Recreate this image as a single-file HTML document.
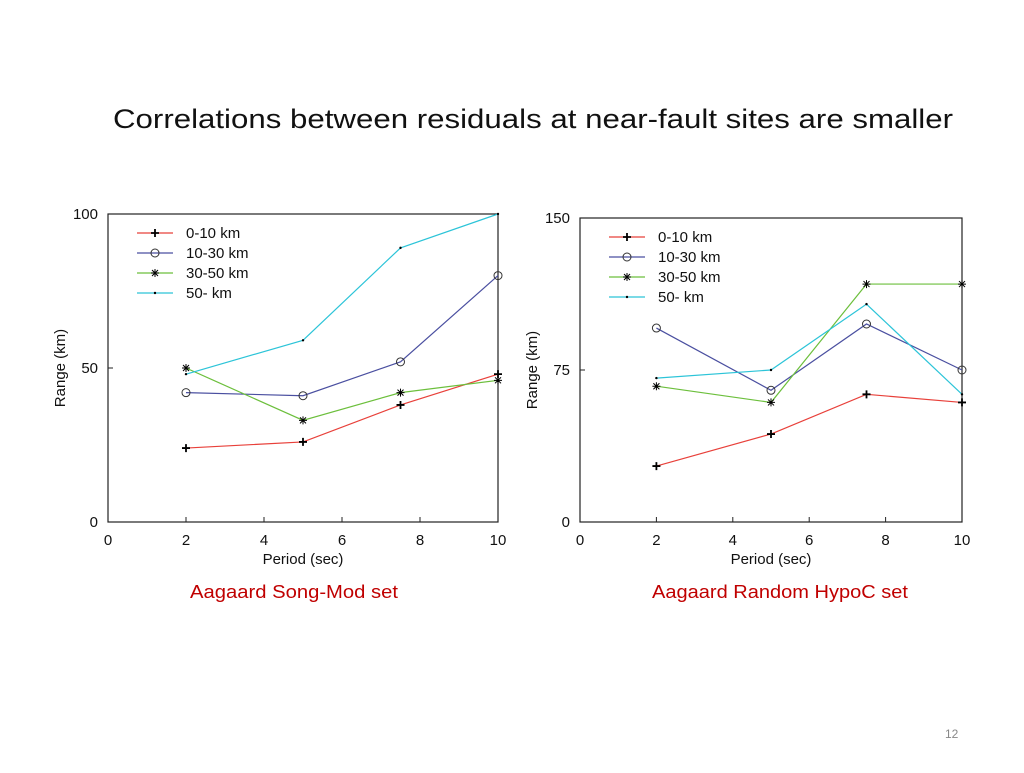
<!DOCTYPE html>
<html><head><meta charset="utf-8"><style>
body{margin:0;background:#fff;width:1024px;height:768px;overflow:hidden;font-family:"Liberation Sans",sans-serif}
svg text{font-family:"Liberation Sans",sans-serif}
</style></head><body>
<svg id="s" width="1024" height="768">
<text x="113" y="128" font-size="27" fill="#111" textLength="840" lengthAdjust="spacingAndGlyphs">Correlations between residuals at near-fault sites are smaller</text>
<text x="190" y="598" font-size="18" fill="#c00000" textLength="208" lengthAdjust="spacingAndGlyphs">Aagaard Song-Mod set</text>
<text x="652" y="598" font-size="18" fill="#c00000" textLength="256" lengthAdjust="spacingAndGlyphs">Aagaard Random HypoC set</text>
<text x="945" y="738" font-size="12" fill="#888">12</text>
</svg>
<script>
const periods=[2,5,7.5,10];
const seriesNames=["0-10 km","10-30 km","30-50 km","50- km"];
const leftA=[24,26,38,48];
const leftB=[42,41,52,80];
const leftC=[50,33,42,46];
const leftD=[48,59,89,100];
const rightA=[27.6,43.4,63,59];
const rightB=[95.7,65,97.7,75];
const rightC=[67,59,117.4,117.4];
const rightD=[71,75,107.5,63];
const xTicks=[0,2,4,6,8,10];
const leftYTicks=[0,50,100];
const rightYTicks=[0,75,150];
const colors=["#e8403a","#4a4fa0","#6cbf3c","#2cc4d8"];
const NS="http://www.w3.org/2000/svg";
const svg=document.getElementById('s');
function mk(t,a,p){const e=document.createElementNS(NS,t);for(const k in a)e.setAttribute(k,a[k]);(p||svg).appendChild(e);return e;}
function marker(g,kind,x,y,c){
  if(kind===0){mk('path',{d:`M${x-4},${y}H${x+4}M${x},${y-4}V${y+4}`,stroke:'#000','stroke-width':1.8},g);}
  else if(kind===1){mk('circle',{cx:x,cy:y,r:4,fill:'none',stroke:'#333','stroke-width':1},g);}
  else if(kind===2){mk('path',{d:`M${x-4},${y}H${x+4}M${x},${y-4}V${y+4}M${x-3},${y-3}L${x+3},${y+3}M${x-3},${y+3}L${x+3},${y-3}`,stroke:'#000','stroke-width':1},g);}
  else {mk('circle',{cx:x,cy:y,r:1.2,fill:'#000'},g);}
}
function chart(name,L,R,T,B,ymax,yTicks,data){
  const g=mk('g',{});
  
  
  const xs=v=>L+(R-L)*v/10, ys=v=>B-(B-T)*v/ymax;
  const box=mk('rect',{x:L,y:T,width:R-L,height:B-T,fill:'none',stroke:'#222','stroke-width':1.2},g);
  
  
  xTicks.forEach(t=>{
    mk('line',{x1:xs(t),x2:xs(t),y1:B,y2:B-5,stroke:'#222'},g);
    const tx=mk('text',{x:xs(t),y:B+23,'font-size':15,'text-anchor':'middle',fill:'#111'},g);tx.textContent=t;
    
    
  });
  yTicks.forEach(t=>{
    mk('line',{x1:L,x2:L+5,y1:ys(t),y2:ys(t),stroke:'#222'},g);
    const tx=mk('text',{x:L-10,y:ys(t)+5,'font-size':15,'text-anchor':'end',fill:'#111'},g);tx.textContent=t;
    
    
  });
  const xt=mk('text',{x:(L+R)/2,y:B+42,'font-size':15,'text-anchor':'middle',fill:'#111'},g);xt.textContent='Period (sec)';
  
  
  const cy=(T+B)/2;
  const yt=mk('text',{x:L-43,y:cy,'font-size':15,'text-anchor':'middle',fill:'#111',transform:`rotate(-90 ${L-43} ${cy})`},g);yt.textContent='Range (km)';
  
  
  data.forEach((vals,i)=>{
    const pts=periods.map((p,j)=>xs(p)+','+ys(vals[j])).join(' ');
    const pl=mk('polyline',{points:pts,fill:'none',stroke:colors[i],'stroke-width':1.2},g);
    
    
    periods.forEach((p,j)=>marker(g,i,xs(p),ys(vals[j]),colors[i]));
    const ly=T+19+i*20;
    const lg=mk('g',{},g);
    
    
    mk('line',{x1:L+29,x2:L+65,y1:ly,y2:ly,stroke:colors[i],'stroke-width':1.2},lg);
    marker(lg,i,L+47,ly,colors[i]);
    const lt=mk('text',{x:L+78,y:ly+5,'font-size':15,fill:'#111'},lg);lt.textContent=seriesNames[i];
  });
}
chart('left-chart',108,498,214,522,100,leftYTicks,[leftA,leftB,leftC,leftD]);
chart('right-chart',580,962,218,522,150,rightYTicks,[rightA,rightB,rightC,rightD]);
</script>
</body></html>
